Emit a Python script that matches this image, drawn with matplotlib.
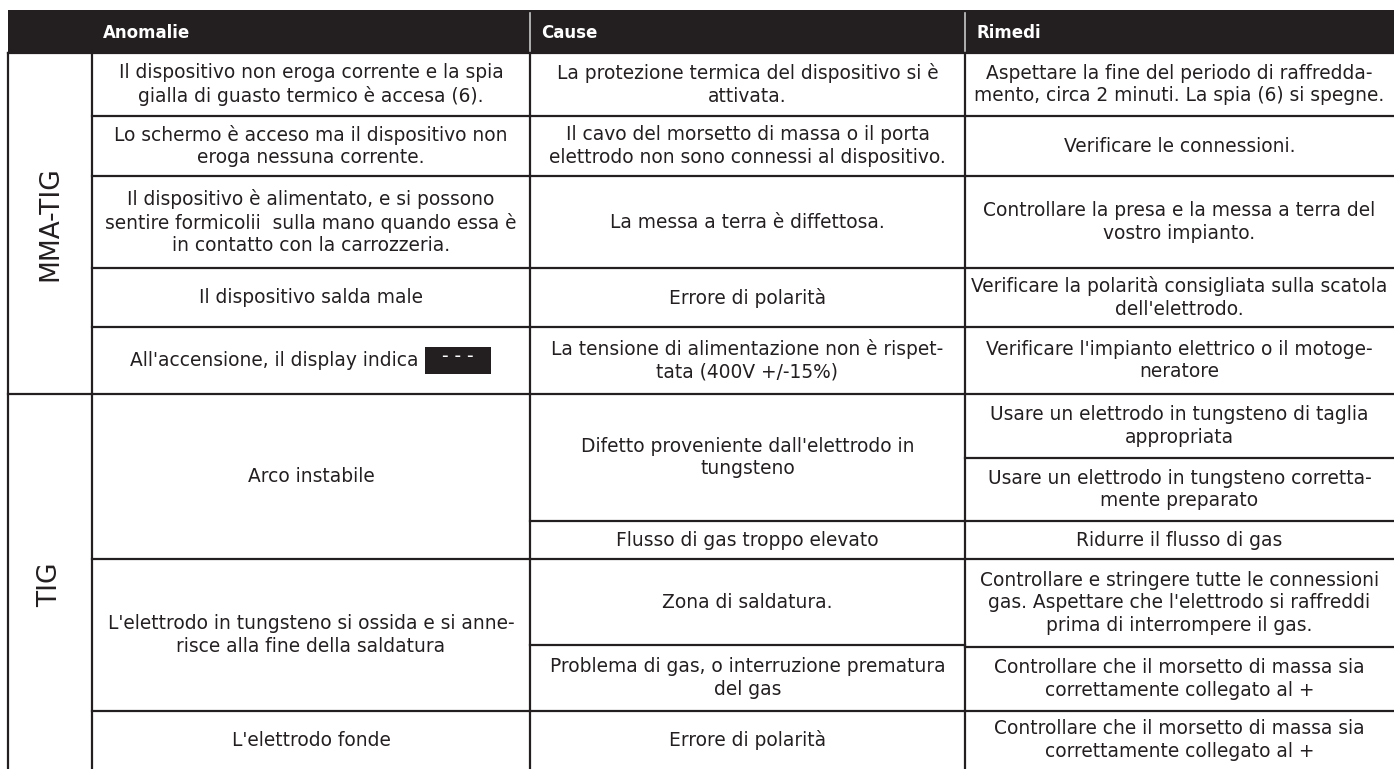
import matplotlib.pyplot as plt
from matplotlib.patches import Rectangle

W, H = 1394, 769
LINE = '#231f20'

headers = ["Anomalie", "Cause", "Rimedi"]
groups = ["MMA-TIG", "TIG"]

anomalie = [
    "Il dispositivo non eroga corrente e la spia\ngialla di guasto termico è accesa (6).",
    "Lo schermo è acceso ma il dispositivo non\neroga nessuna corrente.",
    "Il dispositivo è alimentato, e si possono\nsentire formicolii  sulla mano quando essa è\nin contatto con la carrozzeria.",
    "Il dispositivo salda male",
    "All'accensione, il display indica",
    "Arco instabile",
    "L'elettrodo in tungsteno si ossida e si anne-\nrisce alla fine della saldatura",
    "L'elettrodo fonde",
]
cause = [
    "La protezione termica del dispositivo si è\nattivata.",
    "Il cavo del morsetto di massa o il porta\nelettrodo non sono connessi al dispositivo.",
    "La messa a terra è diffettosa.",
    "Errore di polarità",
    "La tensione di alimentazione non è rispet-\ntata (400V +/-15%)",
    "Difetto proveniente dall'elettrodo in\ntungsteno",
    "Flusso di gas troppo elevato",
    "Zona di saldatura.",
    "Problema di gas, o interruzione prematura\ndel gas",
    "Errore di polarità",
]
rimedi = [
    "Aspettare la fine del periodo di raffredda-\nmento, circa 2 minuti. La spia (6) si spegne.",
    "Verificare le connessioni.",
    "Controllare la presa e la messa a terra del\nvostro impianto.",
    "Verificare la polarità consigliata sulla scatola\ndell'elettrodo.",
    "Verificare l'impianto elettrico o il motoge-\nneratore",
    "Usare un elettrodo in tungsteno di taglia\nappropriata",
    "Usare un elettrodo in tungsteno corretta-\nmente preparato",
    "Ridurre il flusso di gas",
    "Controllare e stringere tutte le connessioni\ngas. Aspettare che l'elettrodo si raffreddi\nprima di interrompere il gas.",
    "Controllare che il morsetto di massa sia\ncorrettamente collegato al +",
    "Controllare che il morsetto di massa sia\ncorrettamente collegato al +",
]
display_code = "- - -"

# layout (pixels)
col_x = [8, 92, 530, 965, W]
head_y = (10, 53)
group_edges = [53, 394, H]
anomalie_edges = [53, 116, 176, 268, 327, 394, 559, 711, H]
cause_edges = [53, 116, 176, 268, 327, 394, 521, 559, 645, 711, H]
rimedi_edges = [53, 116, 176, 268, 327, 394, 458, 521, 559, 647, 711, H]

fig = plt.figure(figsize=(W / 100, H / 100), dpi=100)
ax = fig.add_axes([0, 0, 1, 1])
ax.set_xlim(0, W)
ax.set_ylim(H, 0)
ax.axis('off')

FS = 13.4
LS = 1.24

# header band
ax.add_patch(Rectangle((col_x[0], head_y[0]), W - col_x[0], head_y[1] - head_y[0],
                       facecolor=LINE, edgecolor='none'))
for i, h in enumerate(headers):
    ax.text(col_x[i + 1] + 11, (head_y[0] + head_y[1]) / 2 + 1, h, color='white',
            fontsize=12, fontweight='bold', ha='left', va='center')
for x in col_x[2:4]:
    ax.plot([x, x], [head_y[0] + 3, head_y[1] - 1], color='#c8c8c8', lw=1.2)

# vertical lines
for x in col_x[:4]:
    ax.plot([x, x], [head_y[1], H], color=LINE, lw=1.6)


def fill_column(texts, edges, c):
    x0, x1 = col_x[c], col_x[c + 1]
    for e in edges[1:-1]:
        ax.plot([x0, x1], [e, e], color=LINE, lw=1.6)
    out = []
    for t, top, bot in zip(texts, edges[:-1], edges[1:]):
        out.append(ax.text((x0 + x1) / 2, (top + bot) / 2, t, fontsize=FS, color=LINE,
                           ha='center', va='center', multialignment='center', linespacing=LS))
    return out


# group column
for e in group_edges[1:-1]:
    ax.plot([col_x[0], col_x[1]], [e, e], color=LINE, lw=1.6)
gx = (col_x[0] + col_x[1]) / 2
ax.text(gx, (group_edges[0] + group_edges[1]) / 2, groups[0],
        rotation=90, fontsize=19, color=LINE, ha='center', va='center')
ax.text(gx, (group_edges[1] + group_edges[2]) / 2 + 3.5, groups[1],
        rotation=90, fontsize=19, color=LINE, ha='center', va='center')
ax.plot([col_x[0], W], [head_y[1], head_y[1]], color=LINE, lw=1.6)

an_txt = fill_column(anomalie, anomalie_edges, 1)
fill_column(cause, cause_edges, 2)
fill_column(rimedi, rimedi_edges, 3)

# display code box after the 5th anomaly text
t5 = an_txt[4]
t5.set_ha('right')
t5.set_x(418)
yc = (anomalie_edges[4] + anomalie_edges[5]) / 2
ax.add_patch(Rectangle((425, yc - 13.5), 66, 27, facecolor=LINE, edgecolor='none'))
ax.text(458, yc - 4, display_code, color='white', fontsize=FS, ha='center', va='center')

fig.savefig('out.png', dpi=100)
